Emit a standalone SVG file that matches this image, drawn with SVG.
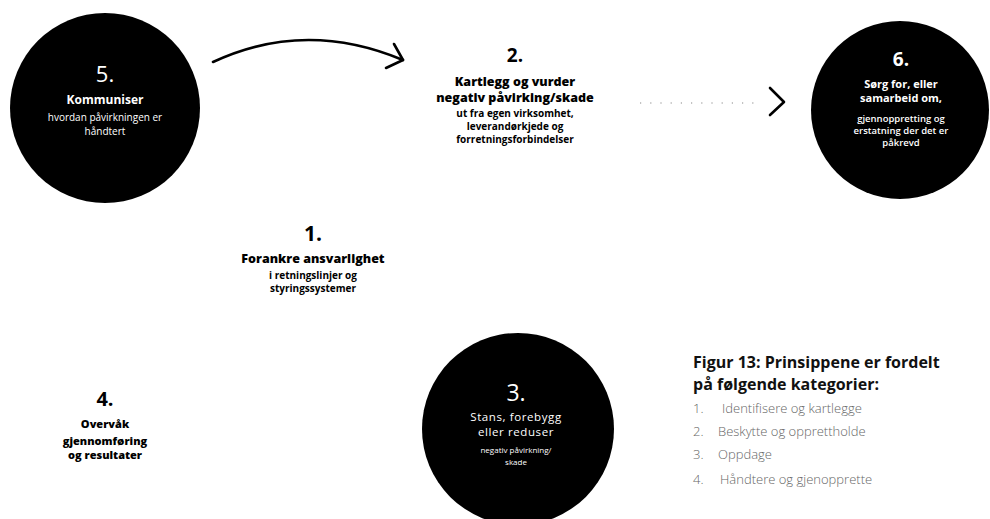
<svg xmlns="http://www.w3.org/2000/svg" width="990" height="519" viewBox="0 0 990 519">
<defs>
<style>
text{font-family:"Open Sans","Liberation Sans",sans-serif;text-anchor:middle}
.w{fill:#fff}
.k{fill:#000}
.num{font-weight:700}
.h{font-weight:800;font-size:12.5px}
.s{font-weight:700;font-size:10px}
.lt{font-weight:400}
.leg{text-anchor:start;font-weight:700;font-size:16px;fill:#111}
.li{text-anchor:start;font-weight:300;font-size:13px;fill:#666}
.conn{fill:none;stroke:#000;stroke-width:2.6;stroke-linecap:round;stroke-linejoin:round}
</style>
</defs>
<rect width="990" height="519" fill="#fff"/>
<g id="connectors">
<path class="conn" d="M213,62 Q305,19 403,60"/>
<path class="conn" d="M394,44 L403,60 L386,68"/>
<line x1="640" y1="103" x2="760" y2="103" stroke="#888" stroke-width="1.2" stroke-dasharray="1.2 9"/>
<path class="conn" d="M770,88 L784,102 L770,115"/>
</g>
<g id="node5">
<circle cx="105" cy="108" r="95" fill="#000"/>
<text class="w" x="105" y="82" font-size="22" font-weight="500">5.</text>
<text class="w" x="105" y="104" font-size="12" font-weight="700">Kommuniser</text>
<text class="w lt" x="105" y="121" font-size="10">hvordan påvirkningen er</text>
<text class="w lt" x="105" y="135" font-size="10">håndtert</text>
</g>
<g id="node2">
<text class="k num" x="515" y="62" font-size="19" font-weight="800">2.</text>
<text class="k h" x="515" y="86">Kartlegg og vurder</text>
<text class="k h" x="515" y="102">negativ påvirking/skade</text>
<text class="k s" x="515" y="117">ut fra egen virksomhet,</text>
<text class="k s" x="515" y="130">leverandørkjede og</text>
<text class="k s" x="515" y="143">forretningsforbindelser</text>
</g>
<g id="node6">
<circle cx="900" cy="110" r="89" fill="#000"/>
<text class="w num" x="901" y="66" font-size="19">6.</text>
<text class="w" x="901" y="88" font-size="11" font-weight="700">Sørg for, eller</text>
<text class="w" x="901" y="102" font-size="11" font-weight="700">samarbeid om,</text>
<text class="w" x="901" y="122" font-size="9.5" font-weight="600">gjennoppretting og</text>
<text class="w" x="901" y="134" font-size="9.5" font-weight="600">erstatning der det er</text>
<text class="w" x="901" y="146" font-size="9.5" font-weight="600">påkrevd</text>
</g>
<g id="node1">
<text class="k num" x="313" y="241" font-size="21" font-weight="800">1.</text>
<text class="k h" x="313" y="263">Forankre ansvarlighet</text>
<text class="k s" x="313" y="279" font-size="9.5">i retningslinjer og</text>
<text class="k s" x="313" y="292" font-size="9.5">styringssystemer</text>
</g>
<g id="node3">
<circle cx="518" cy="429" r="96" fill="#000"/>
<text class="w" x="516" y="401" font-size="23" font-weight="400">3.</text>
<text class="w" x="516" y="421" font-size="11.5" font-weight="400" letter-spacing="0.6">Stans, forebygg</text>
<text class="w" x="516" y="436" font-size="11.5" font-weight="400" letter-spacing="0.6">eller reduser</text>
<text class="w lt" x="516" y="453" font-size="8" fill="#ddd">negativ påvirkning/</text>
<text class="w lt" x="516" y="465" font-size="8" fill="#ddd">skade</text>
</g>
<g id="node4">
<text class="k num" x="105" y="406" font-size="20" font-weight="800">4.</text>
<text class="k" x="105" y="428" font-size="11" font-weight="800">Overvåk</text>
<text class="k" x="105" y="445" font-size="11" font-weight="800">gjennomføring</text>
<text class="k" x="105" y="459" font-size="11" font-weight="800">og resultater</text>
</g>
<g id="legend">
<text class="leg" x="693" y="368">Figur 13: Prinsippene er fordelt</text>
<text class="leg" x="693" y="390">på følgende kategorier:</text>
<text class="li" x="693" y="413">1.</text><text class="li" x="722" y="413">Identifisere og kartlegge</text>
<text class="li" x="693" y="436">2.</text><text class="li" x="718" y="436">Beskytte og opprettholde</text>
<text class="li" x="693" y="459">3.</text><text class="li" x="718" y="459">Oppdage</text>
<text class="li" x="693" y="484">4.</text><text class="li" x="720" y="484">Håndtere og gjenopprette</text>
</g>
</svg>
